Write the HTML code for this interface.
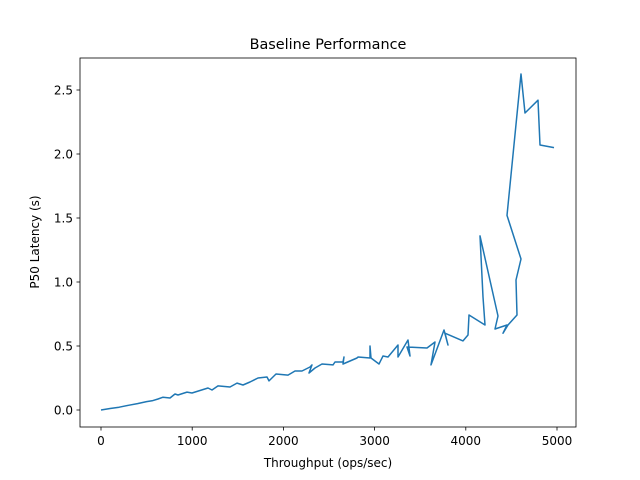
<!DOCTYPE html>
<html><head><meta charset="utf-8"><style>
body{margin:0;background:#fff}
svg{display:block;font-family:"DejaVu Sans","Liberation Sans",sans-serif}
</style></head><body>
<svg id="chart" width="640" height="480">
<rect width="640" height="480" fill="#fff"/>
<text x="328" y="49" text-anchor="middle" font-size="14.4">Baseline Performance</text>
<text x="328" y="467" text-anchor="middle" font-size="12">Throughput (ops/sec)</text>
<text transform="translate(39,242) rotate(-90)" text-anchor="middle" font-size="12">P50 Latency (s)</text>
<g id="ticks"></g>
<path id="line" fill="none" stroke="#1f77b4" stroke-width="1.5" stroke-linejoin="round"/>
<rect x="80" y="58" width="496" height="369" fill="none" stroke="#000" stroke-width="0.8"/>
</svg>
<script>
const throughput=[0,100,200,300,400,500,560,625,680,757,811,844,943,998,1173,1217,1283,1414,1491,1557,1634,1721,1820,1842,1919,2050,2127,2204,2292,2314,2281,2346,2423,2544,2566,2654,2664,2654,2807,2818,2950,2950,2961,3048,3092,3147,3257,3257,3366,3388,3355,3575,3662,3618,3761,3805,3772,3969,4024,4035,4211,4189,4156,4353,4320,4452,4408,4463,4561,4550,4605,4452,4605,4649,4792,4814,4967];
const latency=[0,.012,.022,.037,.05,.066,.072,.086,.10,.094,.125,.117,.14,.133,.172,.156,.188,.18,.21,.195,.219,.25,.258,.227,.281,.273,.305,.305,.336,.352,.289,.328,.359,.352,.375,.375,.414,.359,.406,.414,.406,.5,.406,.359,.422,.414,.508,.414,.547,.422,.492,.484,.531,.352,.625,.508,.60,.54,.586,.742,.664,.883,1.36,.734,.633,.664,.60,.664,.742,1.016,1.18,1.52,2.625,2.32,2.42,2.07,2.05];
const xTicks=[0,1000,2000,3000,4000,5000];
const yTicks=[0,0.5,1.0,1.5,2.0,2.5];
const yTickLabels=["0.0","0.5","1.0","1.5","2.0","2.5"];
const sx=v=>101+v*0.0912;
const sy=v=>410-v*128;
const NS="http://www.w3.org/2000/svg";
const g=document.getElementById('ticks');
xTicks.forEach(t=>{
  const l=document.createElementNS(NS,'line');
  l.setAttribute('x1',sx(t));l.setAttribute('x2',sx(t));l.setAttribute('y1',427);l.setAttribute('y2',430.5);l.setAttribute('stroke','#000');l.setAttribute('stroke-width','0.8');
  
  
  g.appendChild(l);
  const tx=document.createElementNS(NS,'text');
  tx.setAttribute('x',sx(t));tx.setAttribute('y',445);tx.setAttribute('text-anchor','middle');tx.setAttribute('font-size','12');
  tx.textContent=t;
  
  
  g.appendChild(tx);
});
yTicks.forEach((t,i)=>{
  const l=document.createElementNS(NS,'line');
  l.setAttribute('x1',76.5);l.setAttribute('x2',80);l.setAttribute('y1',sy(t));l.setAttribute('y2',sy(t));l.setAttribute('stroke','#000');l.setAttribute('stroke-width','0.8');
  
  
  g.appendChild(l);
  const tx=document.createElementNS(NS,'text');
  tx.setAttribute('x',73);tx.setAttribute('y',sy(t)+4.5);tx.setAttribute('text-anchor','end');tx.setAttribute('font-size','12');
  tx.textContent=yTickLabels[i];
  
  
  g.appendChild(tx);
});
document.getElementById('line').setAttribute('d',throughput.map((x,i)=>(i?'L':'M')+sx(x).toFixed(1)+','+sy(latency[i]).toFixed(1)).join(' '));
</script>
</body></html>
